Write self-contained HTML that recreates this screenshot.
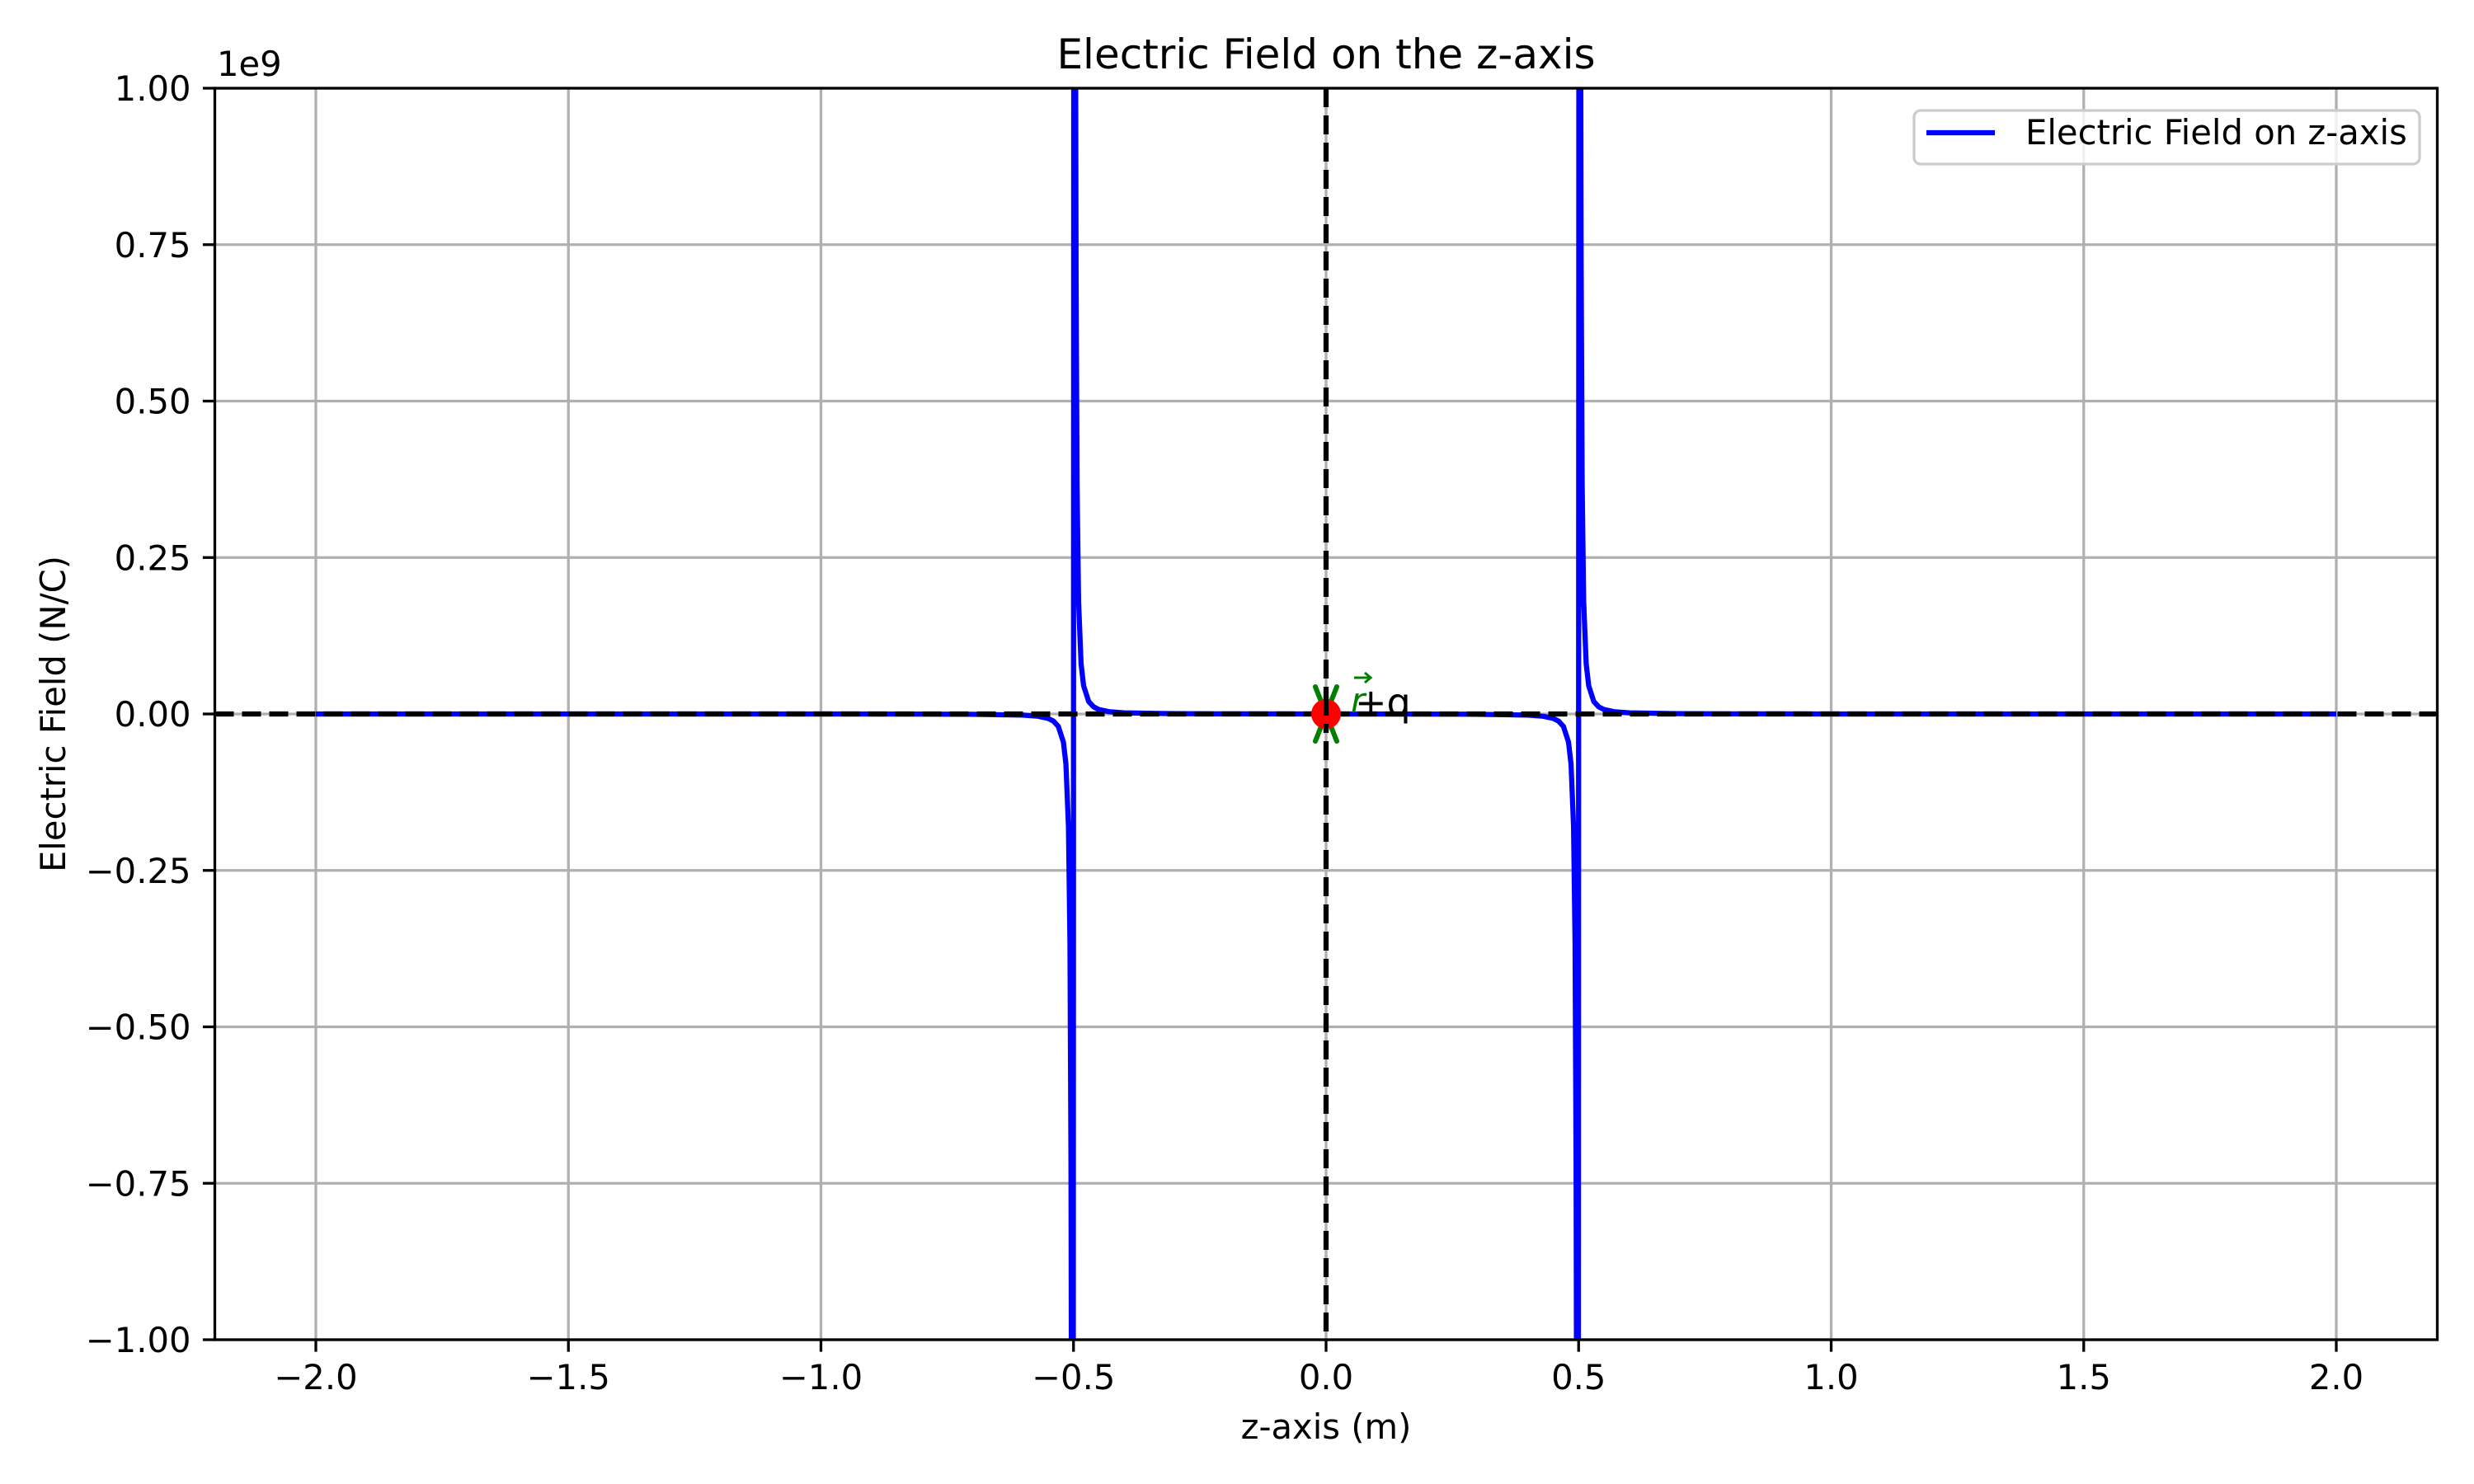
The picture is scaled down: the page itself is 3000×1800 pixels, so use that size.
<!DOCTYPE html>
<html><head><meta charset="utf-8"><style>
html,body{margin:0;padding:0;background:#fff;width:3000px;height:1800px;overflow:hidden;}
svg{display:block;font-family:"DejaVu Sans","Liberation Sans",sans-serif;}
</style></head><body>
<svg id="chart" width="3000" height="1800" viewBox="0 0 3000 1800" xmlns="http://www.w3.org/2000/svg">
<rect x="0" y="0" width="3000" height="1800" fill="#fff"/>
<defs><clipPath id="plotclip"><rect x="260.5" y="107" width="2695" height="1518"/></clipPath></defs>
<g id="grid"></g>
<g id="series" clip-path="url(#plotclip)"></g>
<g id="refs" clip-path="url(#plotclip)"></g>
<g id="markers">
  <line x1="1595" y1="833" x2="1621" y2="899" stroke="#008000" stroke-width="6" stroke-linecap="round"/>
  <line x1="1621" y1="833" x2="1595" y2="899" stroke="#008000" stroke-width="6" stroke-linecap="round"/>
  <circle cx="1608" cy="866" r="18" fill="#ff0000"/>
  <line x1="1608" y1="845" x2="1608" y2="887" stroke="#000" stroke-width="6.25" stroke-dasharray="23 10"/>
  <text x="1638" y="864" font-size="42" font-style="italic" fill="#008000">r</text>
  <path d="M1642 822 L1662 822 M1655 816 L1662 822 L1655 828" stroke="#008000" stroke-width="3" fill="none"/>
  <text x="1643" y="868" font-size="46" fill="#000">+q</text>
</g>
<g id="axes"></g>
<text x="1608" y="83" font-size="50" text-anchor="middle" fill="#000">Electric Field on the z-axis</text>
<text x="1608" y="1745" font-size="41.7" text-anchor="middle" fill="#000">z-axis (m)</text>
<text x="0" y="0" font-size="41.7" text-anchor="middle" fill="#000" transform="translate(79,866) rotate(-90)">Electric Field (N/C)</text>
<text x="263" y="92" font-size="41.7" fill="#000">1e9</text>
<g>
  <rect x="2321" y="134" width="613" height="65" rx="8" fill="#fff" fill-opacity="0.8" stroke="#cccccc" stroke-width="3.3"/>
  <line x1="2336" y1="161" x2="2419" y2="161" stroke="#0000ff" stroke-width="6.25"/>
  <text x="2456" y="175" font-size="41.7" fill="#000">Electric Field on z-axis</text>
</g>
</svg>
<script>
const zValues = [-2.0,-1.5,-1.0,-0.8,-0.7,-0.6,-0.57,-0.55,-0.54,-0.53,-0.52,-0.515,-0.51,-0.507,-0.505,-0.504,-0.503,-0.502,
  -0.498,-0.497,-0.496,-0.495,-0.493,-0.49,-0.485,-0.48,-0.47,-0.46,-0.45,-0.43,-0.4,-0.3,-0.2,0.0,0.2,0.3,0.4,0.43,0.45,0.46,0.47,0.48,0.485,0.49,0.493,0.495,0.496,0.497,0.498,
  0.502,0.503,0.504,0.505,0.507,0.51,0.515,0.52,0.53,0.54,0.55,0.57,0.6,0.7,0.8,1.0,1.5,2.0];
const fieldValues = [0,0,-0.00002,-0.0002,-0.00045,-0.0018,-0.0037,-0.0072,-0.01125,-0.02,-0.045,-0.08,-0.18,-0.367,-0.72,-1.125,-2.0,-4.5,
  4.5,2.0,1.125,0.72,0.367,0.18,0.08,0.045,0.02,0.01125,0.0072,0.0037,0.0018,0.00045,0.0002,0,-0.0002,-0.00045,-0.0018,-0.0037,-0.0072,-0.01125,-0.02,-0.045,-0.08,-0.18,-0.367,-0.72,-1.125,-2.0,-4.5,
  4.5,2.0,1.125,0.72,0.367,0.18,0.08,0.045,0.02,0.01125,0.0072,0.0037,0.0018,0.00045,0.0002,0.00002,0,0];
const xTicks = [-2.0,-1.5,-1.0,-0.5,0.0,0.5,1.0,1.5,2.0];
const xTickLabels = ["\u22122.0","\u22121.5","\u22121.0","\u22120.5","0.0","0.5","1.0","1.5","2.0"];
const yTicks = [-1.0,-0.75,-0.5,-0.25,0.0,0.25,0.5,0.75,1.0];
const yTickLabels = ["\u22121.00","\u22120.75","\u22120.50","\u22120.25","0.00","0.25","0.50","0.75","1.00"];

const NS = "http://www.w3.org/2000/svg";
const L = 260.5, R = 2955.5, T = 107, B = 1625;
const xMin = -2.2, xMax = 2.2, yMin = -1, yMax = 1;
function sx(v){ return L + (v - xMin) / (xMax - xMin) * (R - L); }
function sy(v){ return B - (v - yMin) / (yMax - yMin) * (B - T); }
function mk(tag, attrs, parent){
  const e = document.createElementNS(NS, tag);
  for (const k in attrs) e.setAttribute(k, attrs[k]);
  parent.appendChild(e);
  return e;
}
const grid = document.getElementById('grid');
const axes = document.getElementById('axes');
const series = document.getElementById('series');
const refs = document.getElementById('refs');

xTicks.forEach((t, i) => {
  const x = sx(t);
  const g = mk('line', {x1:x, y1:T, x2:x, y2:B, stroke:'#b0b0b0', 'stroke-width':3.3}, grid);
  
  
  const tk = mk('line', {x1:x, y1:B, x2:x, y2:B+14.6, stroke:'#000', 'stroke-width':3.3}, axes);
  
  
  const lb = mk('text', {x:x, y:1685, 'font-size':41.7, 'text-anchor':'middle', fill:'#000'}, axes);
  lb.textContent = xTickLabels[i];
  
  
});
yTicks.forEach((t, i) => {
  const y = sy(t);
  const g = mk('line', {x1:L, y1:y, x2:R, y2:y, stroke:'#b0b0b0', 'stroke-width':3.3}, grid);
  
  
  const tk = mk('line', {x1:L-14.6, y1:y, x2:L, y2:y, stroke:'#000', 'stroke-width':3.3}, axes);
  
  
  const lb = mk('text', {x:L-29, y:y+15, 'font-size':41.7, 'text-anchor':'end', fill:'#000'}, axes);
  lb.textContent = yTickLabels[i];
  
  
});

let d = '';
zValues.forEach((z, i) => {
  d += (i ? 'L' : 'M') + sx(z).toFixed(2) + ' ' + sy(fieldValues[i]).toFixed(2) + ' ';
});
const path = mk('path', {d:d, fill:'none', stroke:'#0000ff', 'stroke-width':6.25, 'stroke-linejoin':'round'}, series);



const hz = mk('line', {x1:L, y1:sy(0), x2:R, y2:sy(0), stroke:'#000', 'stroke-width':6.25, 'stroke-dasharray':'23 10'}, refs);


const vz = mk('line', {x1:sx(0), y1:T, x2:sx(0), y2:B, stroke:'#000', 'stroke-width':6.25, 'stroke-dasharray':'23 10'}, refs);



const frame = mk('rect', {x:L, y:T, width:R-L, height:B-T, fill:'none', stroke:'#000', 'stroke-width':3.3}, axes);


</script>
</body></html>
